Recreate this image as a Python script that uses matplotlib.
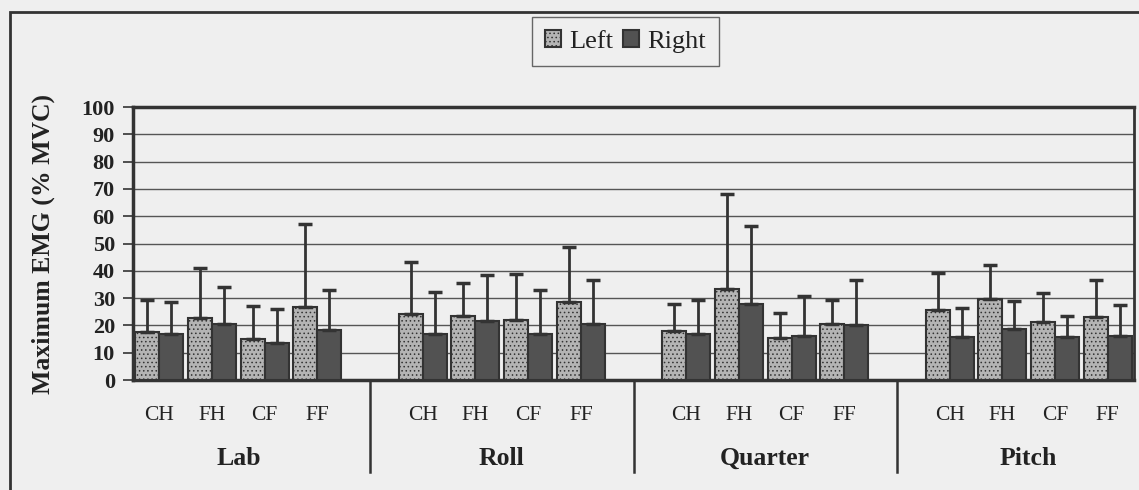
import numpy as np
import matplotlib.pyplot as plt
from matplotlib.patches import Rectangle

# Data
groups = ['Lab', 'Roll', 'Quarter', 'Pitch']
conditions = ['CH', 'FH', 'CF', 'FF']

left_mean = [17.4, 22.8, 14.9, 26.6,
             24.0, 23.3, 22.0, 28.7,
             17.9, 33.5, 15.5, 20.5,
             25.6, 29.8, 21.1, 22.9]
left_sd = [11.9, 18.3, 12.3, 30.7,
           19.3, 12.3, 16.8, 20.1,
           9.9, 34.8, 8.9, 8.8,
           13.5, 12.5, 10.7, 13.7]
right_mean = [16.8, 20.4, 13.5, 18.3,
              16.7, 21.6, 16.7, 20.6,
              16.7, 28.0, 16.1, 20.0,
              15.9, 18.5, 15.9, 16.2]
right_sd = [11.9, 13.7, 12.5, 14.6,
            15.4, 16.7, 16.1, 16.2,
            12.6, 28.5, 14.8, 16.8,
            10.3, 10.4, 7.6, 11.4]

bg = '#efefef'
dark = '#333333'
plt.rcParams['font.family'] = ['Liberation Serif', 'DejaVu Serif']
plt.rcParams['hatch.color'] = '#7a7a7a'
plt.rcParams['hatch.linewidth'] = 0.6

fig = plt.figure(figsize=(11.39, 4.90), dpi=100, facecolor=bg)
ax = fig.add_axes([133 / 1139, 1 - 380 / 490, 1001 / 1139, 273 / 490])
ax.set_facecolor(bg)

# each group takes 4 slots plus one empty slot
x = np.array([g * 5 + i for g in range(len(groups)) for i in range(len(conditions))], dtype=float)
w = 0.455

ax.bar(x - w / 2, left_mean, w, color='#b4b4b4', edgecolor=dark, linewidth=1.5,
       hatch='....', label='Left', zorder=3)
ax.bar(x + w / 2, right_mean, w, color='#525252', edgecolor=dark, linewidth=1.5,
       label='Right', zorder=3)
zeros = np.zeros(len(x))
ax.errorbar(x - w / 2, left_mean, yerr=[zeros, left_sd], fmt='none', ecolor=dark,
            elinewidth=2, capsize=5, capthick=2.5, zorder=4)
ax.errorbar(x + w / 2, right_mean, yerr=[zeros, right_sd], fmt='none', ecolor=dark,
            elinewidth=2, capsize=5, capthick=2.5, zorder=4)

ax.set_xlim(-0.5, 18.5)
ax.set_ylim(0, 100)
ax.set_yticks(range(0, 101, 10))
ax.yaxis.grid(True, color='#555555', linewidth=1)
ax.set_axisbelow(True)
ax.tick_params(axis='y', direction='out', length=7, width=1.2, color=dark, pad=6)
for lab in ax.get_yticklabels():
    lab.set_fontweight('bold')
    lab.set_fontsize(16)
    lab.set_color('#222222')

ax.set_xticks(x)
ax.set_xticklabels(conditions * len(groups), fontsize=15.5, color='#222222')
ax.tick_params(axis='x', length=0, pad=19)

for side, lw in [('top', 2.5), ('left', 2.5), ('bottom', 2.5), ('right', 2.0)]:
    ax.spines[side].set_linewidth(lw)
    ax.spines[side].set_color(dark)

ax.set_ylabel('Maximum EMG (% MVC)', fontsize=18.5, fontweight='bold', color='#222222')
ax.yaxis.set_label_coords(-0.078, 0.5)

# group labels and separators below the axis
trans = ax.get_xaxis_transform()
for g, name in enumerate(groups):
    ax.text(g * 5 + 1.5, -0.286, name, transform=trans, ha='center', va='center',
            fontsize=18.5, fontweight='bold', color='#222222')
for g in range(1, len(groups)):
    ax.plot([g * 5 - 1, g * 5 - 1], [0, -0.337], transform=trans, color=dark,
            linewidth=1.8, clip_on=False)

leg = fig.legend(loc='center', bbox_to_anchor=(0.549, 0.916), ncol=2, fontsize=19,
                 frameon=True, fancybox=False, handlelength=0.6, handleheight=0.6,
                 handletextpad=0.3, columnspacing=0.4, borderpad=0.5)
leg.get_frame().set_edgecolor('#444444')
leg.get_frame().set_facecolor(bg)
leg.get_frame().set_linewidth(1.0)
for t in leg.get_texts():
    t.set_color('#222222')

# outer chart border (cut off on the right and bottom)
fig.patches.append(Rectangle((10 / 1139, -0.1), 1.2, 0.1 + 1 - 12 / 490,
                             transform=fig.transFigure, fill=False,
                             edgecolor=dark, linewidth=2))

fig.savefig('out.png', dpi=100, facecolor=bg)
